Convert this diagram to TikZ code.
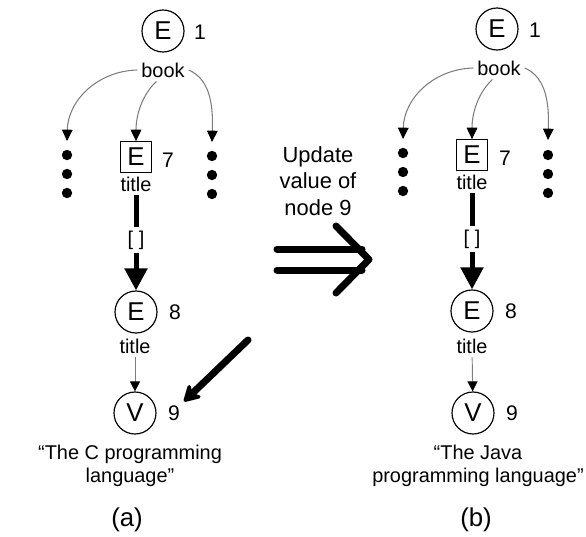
\documentclass[tikz,border=0pt]{standalone}
\usepackage{fontspec}
\setmainfont{Liberation Sans}
\usetikzlibrary{arrows.meta}
\definecolor{link-gray}{RGB}{125,125,125}

\tikzset{
  txt/.style={font=\fontsize{17}{20}\selectfont},
  num/.style={font=\fontsize{18}{21}\selectfont},
  elem/.style={circle, draw, line width=1pt, minimum size=1.26cm, inner sep=0pt, font=\fontsize{22}{24}\selectfont},
  elembox/.style={rectangle, draw, line width=1pt, minimum width=0.94cm, minimum height=0.92cm, inner sep=0pt, font=\fontsize{22}{24}\selectfont},
  child/.style={link-gray, line width=0.9pt, -{Triangle[length=0.34cm, width=0.32cm, color=black]}},
  thin child/.style={link-gray, line width=0.8pt, -{Triangle[length=0.3cm, width=0.3cm, color=black]}},
  bold/.style={line width=0.15cm},
  bold child/.style={line width=0.15cm, -{Triangle[length=0.66cm, width=0.66cm]}},
  big/.style={line width=0.21cm, line cap=round, line join=round}
}

\begin{document}
\begin{tikzpicture}[x=0.03cm, y=-0.03cm]
\useasboundingbox (0,0) rectangle (586,537);

% (a) before the update
\node[elem] (a_e1) at (163,31) {E};
\node[num] (a_n1) at (200,32) {1};
\node[txt] (a_book) at (163,70) {book};
\node[elembox] (a_e7) at (136,157) {E};
\node[num] (a_n7) at (168,160) {7};
\node[txt] (a_title7) at (136,184) {title};
\node[txt] (a_list) at (136,240) {[ ]};
\node[elem] (a_e8) at (136,312) {E};
\node[num] (a_n8) at (175,312) {8};
\node[txt] (a_title8) at (135,346) {title};
\node[elem] (a_v9) at (135,413) {V};
\node[num] (a_n9) at (174,413) {9};
\node[txt, align=center] (a_value) at (130,466) {“The C programming\\language”};
\node[font=\fontsize{22}{26}\selectfont] (a_caption) at (127,520) {(a)};

\coordinate (a_left) at (67,141);
\coordinate (a_right) at (212,142);
\fill (67,155) circle[radius=0.155cm] (67,174) circle[radius=0.155cm] (67,193) circle[radius=0.155cm];
\fill (212,156) circle[radius=0.155cm] (212,175) circle[radius=0.155cm] (212,194) circle[radius=0.155cm];

\draw[child] (a_book.west) .. controls (98,71) and (68,100) .. (a_left);
\draw[child] (a_book.-120) .. controls (142,95) and (136,115) .. (a_e7.north);
\draw[child] (a_book.east) .. controls (212,80) and (213,110) .. (a_right);
\draw[bold] (a_title7) -- (a_list);
\draw[bold child] (a_list) -- (a_e8);
\draw[thin child] (a_title8) -- (a_v9);

% (b) after the update
\node[elem] (b_e1) at (497,29) {E};
\node[num] (b_n1) at (535,30) {1};
\node[txt] (b_book) at (499,68) {book};
\node[elembox] (b_e7) at (472,155) {E};
\node[num] (b_n7) at (505,158) {7};
\node[txt] (b_title7) at (472,182) {title};
\node[txt] (b_list) at (472,239) {[ ]};
\node[elem] (b_e8) at (472,311) {E};
\node[num] (b_n8) at (511,311) {8};
\node[txt] (b_title8) at (472,346) {title};
\node[elem] (b_v9) at (473,413) {V};
\node[num] (b_n9) at (512,413) {9};
\node[txt, align=center] (b_value) at (478,466) {“The Java\\programming language”};
\node[font=\fontsize{22}{26}\selectfont] (b_caption) at (476,520) {(b)};

\coordinate (b_left) at (403,139);
\coordinate (b_right) at (548,140);
\fill (403,153) circle[radius=0.155cm] (403,172) circle[radius=0.155cm] (403,191) circle[radius=0.155cm];
\fill (548,155) circle[radius=0.155cm] (548,174) circle[radius=0.155cm] (548,193) circle[radius=0.155cm];

\draw[child] (b_book.west) .. controls (434,69) and (404,98) .. (b_left);
\draw[child] (b_book.-120) .. controls (478,93) and (472,113) .. (b_e7.north);
\draw[child] (b_book.east) .. controls (548,78) and (549,108) .. (b_right);
\draw[bold] (b_title7) -- (b_list);
\draw[bold child] (b_list) -- (b_e8);
\draw[thin child] (b_title8) -- (b_v9);

% the update step
\node[align=center, font=\fontsize{18.7}{22.5}\selectfont] (update) at (318,181) {Update\\value of\\node 9};
\draw[big] (277,249) -- (362,249) (277,270) -- (362,270);
\draw[big] (336,226) -- (369,259.5) -- (336,293);

\coordinate (pointer) at (248,340);
\draw[line width=0.21cm, line cap=round, -{Stealth[length=0.6cm, width=0.68cm, round]}] (pointer) -- (a_n9.north east);
\end{tikzpicture}
\end{document}
